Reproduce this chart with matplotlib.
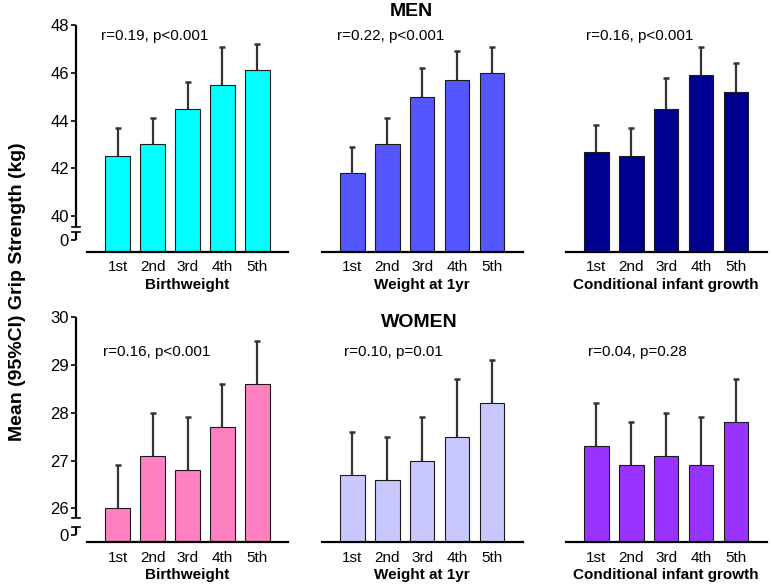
import matplotlib
matplotlib.use('Agg')
import matplotlib.pyplot as plt
from matplotlib.transforms import blended_transform_factory

plt.rcParams['font.family'] = ['Liberation Sans', 'DejaVu Sans']

quintiles = ['1st', '2nd', '3rd', '4th', '5th']
exposures = ['Birthweight', 'Weight at 1yr', 'Conditional infant growth']

# men: means and upper 95% CI
men_birthweight = [42.5, 43.0, 44.5, 45.5, 46.1]
men_birthweight_ci = [43.7, 44.1, 45.6, 47.1, 47.2]
men_weight1yr = [41.8, 43.0, 45.0, 45.7, 46.0]
men_weight1yr_ci = [42.9, 44.1, 46.2, 46.9, 47.1]
men_growth = [42.7, 42.5, 44.5, 45.9, 45.2]
men_growth_ci = [43.8, 43.7, 45.8, 47.1, 46.4]

# women: means and upper 95% CI
women_birthweight = [26.0, 27.1, 26.8, 27.7, 28.6]
women_birthweight_ci = [26.9, 28.0, 27.9, 28.6, 29.5]
women_weight1yr = [26.7, 26.6, 27.0, 27.5, 28.2]
women_weight1yr_ci = [27.6, 27.5, 27.9, 28.7, 29.1]
women_growth = [27.3, 26.9, 27.1, 26.9, 27.8]
women_growth_ci = [28.2, 27.8, 28.0, 27.9, 28.7]

men_stats = ['r=0.19, p<0.001', 'r=0.22, p<0.001', 'r=0.16, p<0.001']
women_stats = ['r=0.16, p<0.001', 'r=0.10, p=0.01', 'r=0.04, p=0.28']

men_colors = ['#00FFFF', '#5656FF', '#000090']
women_colors = ['#FF80C0', '#C8C8FF', '#9933FF']

men_yticks = [40, 42, 44, 46, 48]
women_yticks = [26, 27, 28, 29, 30]

W, H = 772, 584
fig = plt.figure(figsize=(W / 100, H / 100), dpi=100)

panel_left = [87, 321.7, 565.7]
panel_width = 201


def drawPanel(ax, means, upper, color, ylim, first, yticks, zero_pos, brk):
    x = list(range(len(quintiles)))
    base = ylim[0]
    ax.bar(x, [m - base for m in means], bottom=base, width=0.7, color=color,
           edgecolor='#1a1a1a', linewidth=0.8, zorder=2)
    # one-sided (upper) error bars
    ax.vlines(x, means, upper, colors='#333333', linewidth=1.6, zorder=1)
    ax.plot(x, upper, linestyle='none', marker='_', markersize=4.5,
            markeredgewidth=1.8, color='#333333', zorder=1)
    ax.set_xlim(-0.88, 4.88)
    ax.set_ylim(ylim)
    for s in ['top', 'right', 'left']:
        ax.spines[s].set_visible(False)
    ax.spines['bottom'].set_linewidth(1.6)
    ax.set_xticks(x, quintiles, fontsize=11)
    ax.tick_params(axis='x', length=0, pad=6)

    if not first:
        ax.set_yticks([])
        return

    off = 11
    ax.spines['left'].set_position(('outward', off * 0.72))
    ax.set_yticks([zero_pos] + yticks, ['0'] + [str(t) for t in yticks], fontsize=12)
    ax.tick_params(axis='y', direction='out', length=3.6, width=1.2, pad=1.5)

    trans = blended_transform_factory(ax.transAxes, ax.transData)
    sx = -off / panel_width
    hw = 4 / panel_width
    kw = dict(transform=trans, clip_on=False, color='black', lw=1.6, solid_capstyle='butt')
    ax.plot([sx, sx], [yticks[-1], brk[0]], **kw)
    ax.plot([sx, sx], [brk[1], zero_pos], **kw)
    ax.plot([sx - hw, sx + hw], [brk[0], brk[0]], color='black', lw=1.2, transform=trans, clip_on=False)
    ax.plot([sx - hw, sx + hw], [brk[1], brk[1]], color='black', lw=1.2, transform=trans, clip_on=False)


def addRow(top_px, bottom_px, data, colors, ylim, yticks, zero_pos, brk, stats, stat_xy):
    for i, (means, upper) in enumerate(data):
        ax = fig.add_axes([panel_left[i] / W, 1 - bottom_px / H,
                           panel_width / W, (bottom_px - top_px) / H])
        drawPanel(ax, means, upper, colors[i], ylim, i == 0, yticks, zero_pos, brk)
        ax.set_xlabel(exposures[i], fontsize=11, fontweight='bold', labelpad=2.5)
        fig.text(stat_xy[i][0] / W, 1 - stat_xy[i][1] / H, stats[i], fontsize=11,
                 ha='left', va='center')


addRow(25, 252,
       [(men_birthweight, men_birthweight_ci), (men_weight1yr, men_weight1yr_ci),
        (men_growth, men_growth_ci)],
       men_colors, (38.5, 48), men_yticks, 39.0, (39.56, 39.33), men_stats,
       [(100.7, 36), (337.3, 36), (585.7, 36)])

addRow(317, 542.3,
       [(women_birthweight, women_birthweight_ci), (women_weight1yr, women_weight1yr_ci),
        (women_growth, women_growth_ci)],
       women_colors, (25.29, 30), women_yticks, 25.44, (25.80, 25.60), women_stats,
       [(103.3, 351.7), (344.3, 351.7), (587.7, 351.7)])

fig.text(411.7 / W, 1 - 12 / H, 'MEN', fontsize=14, fontweight='bold', ha='center', va='center')
fig.text(419.8 / W, 1 - 322.7 / H, 'WOMEN', fontsize=14, fontweight='bold', ha='center', va='center')
fig.text(17.5 / W, 1 - 292 / H, 'Mean (95%CI) Grip Strength (kg)', fontsize=14,
         fontweight='bold', rotation=90, ha='center', va='center')

fig.savefig('out.png', dpi=100)
